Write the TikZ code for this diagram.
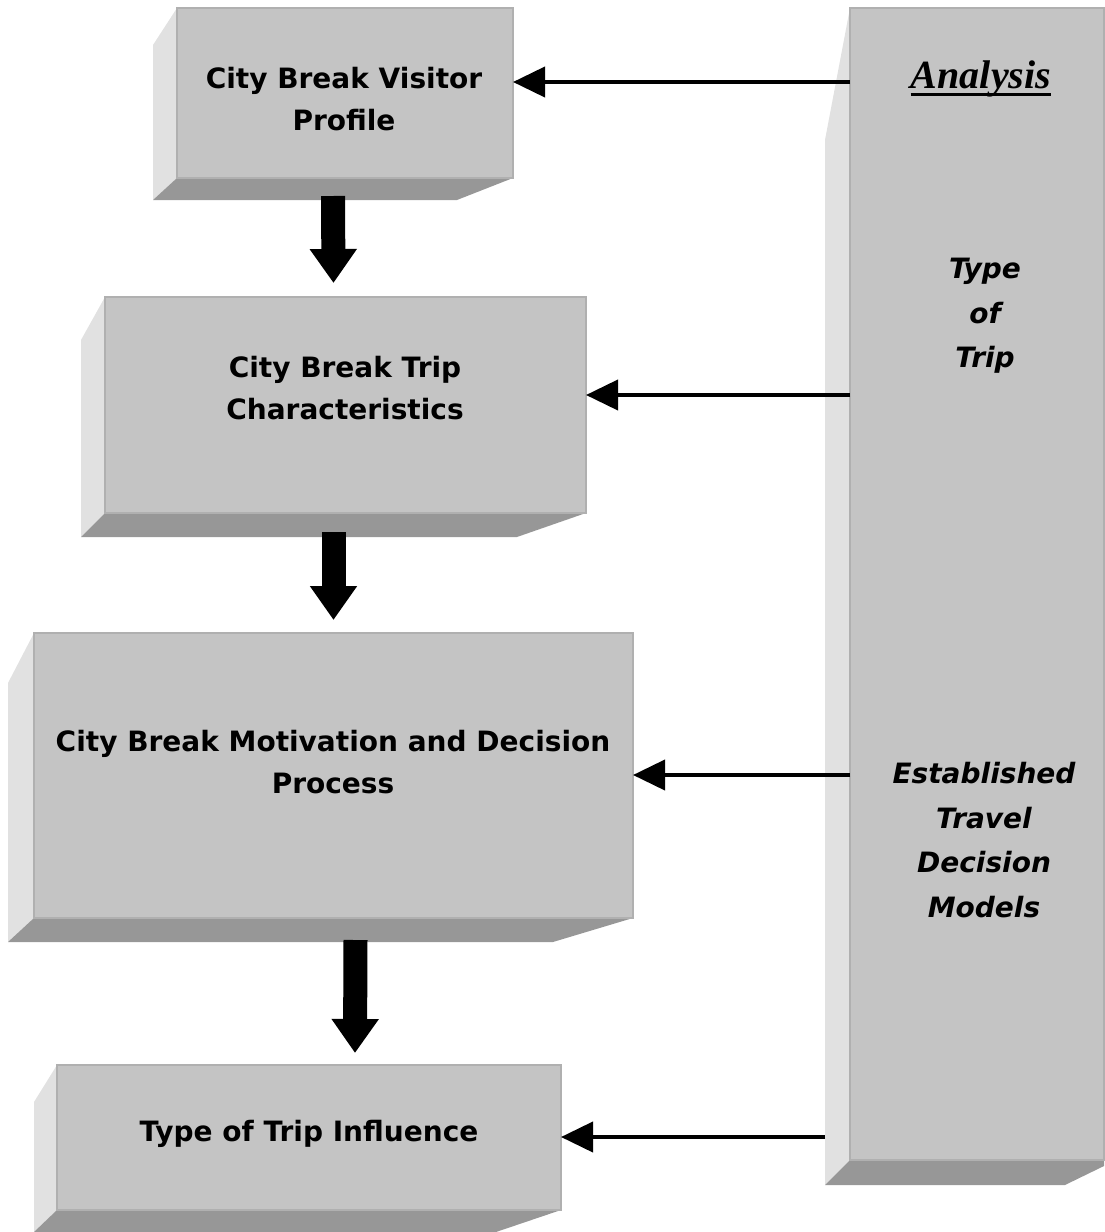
\documentclass[tikz,border=0pt]{standalone}
\usepackage{fontspec}
\usepackage{tikz}
\usetikzlibrary{arrows.meta,calc}
\newfontfamily\comicfont{DejaVu Sans}
\newfontfamily\timesfont{Liberation Serif}
\definecolor{facegray}{RGB}{196,196,196}
\definecolor{sidegray}{RGB}{225,225,225}
\definecolor{basegray}{RGB}{151,151,151}
\definecolor{edgegray}{RGB}{176,176,176}

\begin{document}
\begin{tikzpicture}[x=0.5pt,y=-0.5pt,
  face/.style={fill=facegray,draw=edgegray,line width=1pt,inner sep=0pt,outer sep=0pt},
  boxtext/.style={align=center,font=\comicfont\bfseries\fontsize{14}{21}\selectfont},
  coltext/.style={align=center,font=\comicfont\bfseries\itshape\fontsize{14}{22.2}\selectfont},
  feed/.style={line width=2pt,-{Triangle[length=16pt,width=15pt]}},
  flow/.style={line width=12pt,-{Triangle[length=17pt,width=22.5pt]}}]
\useasboundingbox (0,0) rectangle (1104,1232);
% side and bottom faces
\fill[sidegray] (153,45) -- (177,8) -- (177,178) -- (153,200) -- cycle; %
\fill[basegray] (177,178) -- (513,178) -- (457,200) -- (153,200) -- cycle; %
\fill[sidegray] (81,340) -- (105,297) -- (105,513) -- (81,537) -- cycle; %
\fill[basegray] (105,513) -- (586,513) -- (517,537) -- (81,537) -- cycle; %
\fill[sidegray] (8,683) -- (34,633) -- (34,918) -- (8,942) -- cycle; %
\fill[basegray] (34,918) -- (633,918) -- (553,942) -- (8,942) -- cycle; %
\fill[sidegray] (34,1102) -- (57,1065) -- (57,1210) -- (34,1232) -- cycle; %
\fill[basegray] (57,1210) -- (561,1210) -- (496,1232) -- (34,1232) -- cycle; %
\fill[sidegray] (825,140) -- (850,8) -- (850,1160) -- (825,1185) -- cycle; %
\fill[basegray] (850,1160) -- (1104,1160) -- (1104,1166) -- (1065,1185) -- (825,1185) -- cycle; %
% front faces
\node[face,minimum width=168pt,minimum height=85pt] (b1) at (345,93) {};
\node[face,minimum width=240.5pt,minimum height=108pt] (b2) at (345.5,405) {};
\node[face,minimum width=299.5pt,minimum height=142.5pt] (b3) at (333.5,775.5) {};
\node[face,minimum width=252pt,minimum height=72.5pt] (b4) at (309,1137.5) {};
\node[face,minimum width=127pt,minimum height=576pt] (col) at (977,584) {};
% texts
\node[boxtext] (t1) at (344,99) {City Break Visitor\\Profile};
\node[boxtext] (t2) at (345,388) {City Break Trip\\Characteristics};
\node[boxtext] (t3) at (333,762) {City Break Motivation and Decision\\Process};
\node[boxtext] (t4) at (309,1134) {Type of Trip Influence};
\node[inner sep=0pt,font=\timesfont\bfseries\itshape\fontsize{20}{24}\selectfont] (an) at (981,79) {Analysis};
\draw[line width=1.5pt] ([yshift=-3pt]an.base west) -- ([yshift=-3pt]an.base east);
\node[coltext] (ty) at (985,316) {Type\\of\\Trip};
\node[coltext] (em) at (984,840) {Established\\Travel\\Decision\\Models};
% arrows
\coordinate (a1) at (850,82);
\coordinate (a2) at (850,395);
\coordinate (a3) at (850,775);
\coordinate (a4) at (825,1137);
\draw[feed] (a1) -- (a1 -| b1.east);
\draw[feed] (a2) -- (a2 -| b2.east);
\draw[feed] (a3) -- (a3 -| b3.east);
\draw[feed] (a4) -- (a4 -| b4.east);
\draw[flow] ($(b1.south)+(-12,18)$) -- ($(b2.north)+(-12,-14)$);
\draw[flow] ($(b2.south)+(-12,19)$) -- ($(b3.north)+(0,-13)$);
\draw[flow] ($(b3.south)+(22,22)$) -- ($(b4.north)+(46,-12)$);
\end{tikzpicture}
\end{document}
